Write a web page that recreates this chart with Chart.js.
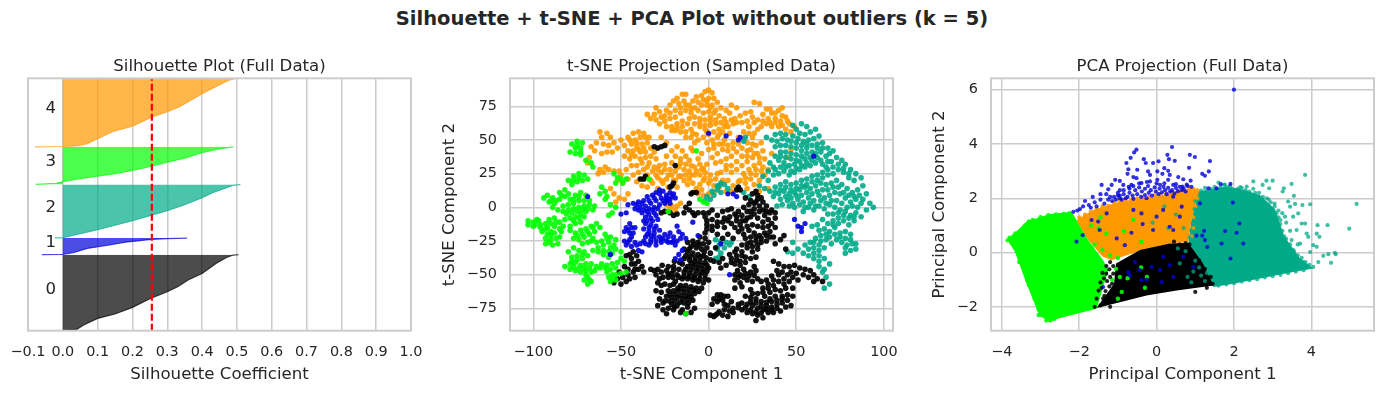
<!DOCTYPE html>
<html><head><meta charset="utf-8">
<script src="https://cdn.jsdelivr.net/npm/chart.js@4"></script>
<style>
html,body{margin:0;padding:0;background:#fff;width:1384px;height:393px;overflow:hidden}
canvas{position:absolute}
#sup{position:absolute;left:0;width:1384px;top:8px;text-align:center;font:bold 19.5px "DejaVu Sans";color:#262626;line-height:22px}
</style></head><body>
<div id="sup">Silhouette + t-SNE + PCA Plot without outliers (k = 5)</div>
<canvas id="a" width="460" height="338" style="left:-10px;top:55px"></canvas>
<canvas id="b" width="489" height="338" style="left:440px;top:55px"></canvas>
<canvas id="c" width="454" height="338" style="left:930px;top:55px"></canvas>
<script>
const colBlack='0,0,0',colBlue='0,0,221',colTeal='0,170,136',colGreen='0,255,0',colOrange='255,153,0';
const silXTicks=[-0.1,0,0.1,0.2,0.3,0.4,0.5,0.6,0.7,0.8,0.9,1.0];
const tsneXTicks=[-100,-50,0,50,100];
const tsneYTicks=[-75,-50,-25,0,25,50,75];
const pcaXTicks=[-4,-2,0,2,4];
const pcaYTicks=[-2,0,2,4,6];
const silAvg=0.2557;
const silLabels=[['0',41],['1',88],['2',123],['3',169],['4',221.7]];
const sil0=[[-0.085,0],[0,0.3],[0.04,1.3],[0.06,5.7],[0.1,12.3],[0.15,16.7],[0.2,23.3],[0.25,32],[0.3,39],[0.33,44],[0.36,50.7],[0.4,57.3],[0.44,67.3],[0.47,73.3],[0.49,75.7],[0.505,76]];
const sil1=[[-0.06,76.2],[0,76.4],[0.03,78],[0.07,82.3],[0.13,85.5],[0.18,88.6],[0.255,91.3],[0.3,92.2],[0.357,92.7]];
const sil2=[[-0.023,92.8],[0,93],[0.05,97],[0.1,101],[0.15,105.5],[0.2,110],[0.255,115.7],[0.3,120],[0.35,126],[0.4,133],[0.43,138],[0.47,143],[0.49,145.5],[0.51,146.2]];
const sil3=[[-0.078,146.3],[-0.02,147.5],[0,149],[0.05,152],[0.1,154.5],[0.15,157],[0.2,160.3],[0.255,164.5],[0.3,168.5],[0.35,172.5],[0.4,178],[0.45,182],[0.49,184]];
const sil4=[[-0.08,184],[0,184.3],[0.04,185],[0.07,187],[0.1,192],[0.145,199.5],[0.2,204.5],[0.255,213.5],[0.3,219],[0.335,224],[0.4,237],[0.45,246],[0.48,251],[0.497,252.5]];

const tsneOrange=[[-67,45],[-64,48],[-61,52],[-62,56],[-58,55],[-56,52],[-60,47],[-57,46],[-54,48],[-52,44],[-55,41],[-58,41],[-61,40],[-65,42],[-50,50],[-48,46],[-46,52],[-43,55],[-40,56],[-37,55],[-36,52],[-39,52],[-42,50],[-44,47],[-41,45],[-38,47],[-35,48],[-33,44],[-36,41],[-39,41],[-43,42],[-46,42],[-48,38],[-45,36],[-42,38],[-39,36],[-36,37],[-33,38],[-31,41],[-30,36],[-34,33],[-31,30],[-28,31],[-41,31],[-44,31],[-47,28],[-50,24],[-52,20],[-49,18],[-46,21],[-43,24],[-40,26],[-37,28],[-35,24],[-38,21],[-41,19],[-33,20],[-30,24],[-27,26],[-27,20],[-24,21],[-21,24],[-19,20],[-16,23],
[-30,74],[-28,71],[-31,69],[-27,67],[-24,72],[-22,76],[-20,79],[-18,81],[-15,84],[-13,84],[-17,77],[-14,79],[-11,76],[-19,72],[-16,70],[-13,72],[-10,70],[-8,74],[-6,78],[-4,83],[-2,86],[0,87],[2,85],[-3,80],[0,81],[3,81],[5,78],[-1,76],[2,76],[-6,72],[-3,70],[0,71],[-5,66],[-2,65],[1,67],[4,72],[7,74],[10,72],[13,76],[16,74],[6,68],[9,66],[12,70],[15,66],[18,68],[21,70],[24,71],[26,78],[29,77],[33,73],[36,70],[40,72],[42,74],[38,66],[34,66],[31,69],[41,64],[44,67],[46,62],[49,60],[44,58],[40,60],[36,60],[33,62],[30,60],[47,56],
[-35,69],[-33,66],[-30,65],[-28,62],[-25,64],[-22,66],[-24,60],[-21,60],[-18,62],[-15,64],[-12,62],[-19,57],[-16,56],[-13,56],[-10,58],[-13,52],[-10,52],[-8,48],[-5,60],[-2,58],[1,61],[4,62],[3,56],[0,54],[-3,52],[-1,48],[2,50],[5,52],[8,56],[11,60],[14,62],[12,55],[9,50],[6,47],[3,44],[0,43],[5,40],[8,43],[11,46],[14,48],[17,52],[20,56],[23,60],[26,63],[28,58],[25,52],[22,48],[19,44],[16,41],[13,38],[10,36],[7,34],[4,33],[2,37],[24,43],[27,46],[30,48],[28,40],[25,37],[22,34],[19,31],[16,28],[13,26],[10,28],[7,26],[20,25],[23,28],[26,31],[29,33],[32,36],[30,27],[27,24],[24,21],[21,18],[18,20],[26,17],[29,20],[32,24],[34,28],
[-18,45],[-15,42],[-19,38],[-16,36],[-13,38],[-11,35],[-17,30],[-14,28],[-11,27],[-8,30],[-5,32],[-8,24],[-5,24],[-2,26],[1,24],[4,21],[-3,20],[0,18],[3,16],[-11,21],[-14,20],[-17,23],[-20,20],[-23,24],[-26,18],[-23,15],[-29,22],[-32,18],[-35,15],[-38,16],[-29,14],[-7,14],[-4,13],[-6,10],[-3,9],[0,10],[3,11],
[-24,2],[-21,1],[-18,1],[-22,-1],[-19,-2],[-16,3],[-57,28],[-54,27],[-51,27],[-60,26],[-56,14],[-54,10],[-51,7],[-53,4],[-48,6],[-46,10],[-68,37],[-69,33],[-62,28],[-59,30],[-63,25],[-7,54],[-9,42],[-4,40],[-21,42],[-24,48],[-27,52],[-24,38],[45,37],[47,43],[11,20],[14,16],[17,19],[8,20],[6,15],[10,12],[13,12],[22,14],[29,12],[34,14],[-10,44],[-6,36],[-1,32],[36,40],
[-34,52],[-45,50],[-41,48],[-37,44],[-40,43],[-44,39],[-38,33],[-35,30],[-32,27],[-29,28],[-25,28],[-22,28],[-25,32],[-21,33],[-19,27],[-16,33],[-13,32],[-10,31],[-13,24],[-10,24],[-7,27],[-4,28],[-2,22],[1,20],[-5,17],[-9,18],[-12,17],[-18,15],[-3,29],[5,25],[-25,68],[-22,70],[-19,67],[-16,74],[-13,76],[-10,73],[-9,79],[-7,82],[-4,76],[-1,79],[1,74],[3,70],[-8,67],[-11,66],[-8,62],[-5,63],[-2,61],[1,64],[4,65],[7,63],[10,63],[13,65],[16,63],[19,63],[22,64],[25,67],[28,65],[31,64],[35,63],[38,63],[42,61],[38,70],[35,73],[45,64],[42,68],[-15,60],[-18,59],[-21,57],[-9,55],[-6,50],[-1,56],[6,58],[9,60],[6,54],[3,47],[8,47],[11,42],[14,44],[17,47],[20,51],[23,55],[26,55],[22,42],[25,47],[19,38],[22,38],[16,34],[13,31],[10,31],[26,40],[29,37],[31,42],[31,30],[27,28],[24,25],[21,22]];

const tsneBlack=[[-11,-2],[-13,0],[-11,3],[-9,-4],[-14,-4],[-18,-5],[-22,-4],[-20,-6],[-25,-3],[-27,-4],[-8,-6],[-6,-4],[-3,-4],[0,-4],[2,-2],[-2,-7],[-1,-10],[2,-9],[-1,-13],[2,-14],[5,-11],[5,-6],[8,-3],[11,-2],[13,-1],[9,-8],[12,-7],[15,-5],[17,-3],[19,-6],[16,-10],[13,-12],[15,-15],[18,-13],[21,-10],[24,-7],[22,-3],[20,0],[23,2],[26,-1],[24,5],[27,4],[21,7],[28,9],[25,10],[29,-3],[32,-6],[34,-9],[31,-11],[28,-8],[35,-4],[33,1],[30,7],[27,12],[36,-12],[38,-8],[38,-15],
[17,-18],[20,-20],[23,-17],[26,-19],[29,-21],[32,-19],[35,-18],[37,-22],[33,-25],[30,-26],[27,-25],[24,-26],[28,-31],[25,-33],[22,-30],[19,-33],[16,-36],[13,-38],[18,-40],[15,-42],[21,-37],[24,-38],[27,-37],[38,-27],[41,-24],[43,-21],[44,-31],
[-12,-26],[-9,-25],[-6,-26],[-3,-27],[0,-26],[-5,-22],[-2,-23],[-10,-29],[-7,-30],[-4,-31],[-1,-30],[1,-34],[-3,-36],[-6,-35],[-9,-34],[-12,-33],[-14,-38],[-11,-39],[-8,-40],[-5,-40],[-2,-41],[1,-39],[0,-45],[-3,-46],[-6,-45],[-9,-44],[-12,-44],[-15,-42],[-17,-46],[-14,-48],[-11,-49],[-8,-50],[-5,-50],[-2,-50],[0,-54],[-3,-56],[-6,-55],[-9,-54],[-12,-53],[-15,-53],[-18,-50],[-21,-49],[-24,-47],[-27,-48],[-29,-46],[-31,-47],[-33,-46],[-26,-52],[-28,-53],[-23,-52],[-25,-57],[-22,-58],[-19,-55],[-16,-58],[-13,-58],[-10,-59],[-7,-60],[-4,-60],[-8,-64],[-11,-64],[-14,-63],[-17,-62],[-20,-62],[-23,-62],[-24,-66],[-21,-67],[-18,-67],[-15,-68],[-12,-68],[-9,-69],[-21,-72],[-18,-73],[-23,-75],[-20,-76],[-12,-74],[-15,-76],[-10,-78],[-13,-79],[-8,-75],
[15,-50],[18,-50],[21,-49],[24,-48],[27,-47],[15,-54],[18,-56],[22,-54],[25,-55],[28,-53],[15,-60],[19,-59],[24,-61],[31,-60],[34,-57],[37,-54],[40,-50],[43,-53],[46,-55],[48,-60],[44,-60],[41,-62],[38,-61],[35,-63],[32,-66],[35,-68],[38,-66],[42,-66],[45,-65],[42,-71],[39,-72],[36,-74],[33,-73],[30,-70],[27,-68],[24,-67],[21,-66],[8,-69],[11,-66],[13,-70],[7,-65],
[19,-71],[22,-72],[25,-73],[28,-75],[31,-76],[19,-76],[22,-78],[25,-79],[28,-80],[31,-82],[27,-84],[14,-78],[11,-81],[8,-80],[4,-80],[14,-75],[17,-72],[11,-73],[34,-78],[37,-78],[41,-77],[44,-74],[47,-73],
[37,-40],[40,-42],[43,-44],[46,-44],[49,-43],[52,-45],[55,-46],[58,-47],[60,-50],[62,-53],[65,-55],[60,-55],[57,-52],[54,-50],[50,-49],[47,-48],
[-43,-33],[-45,-35],[-47,-36],[-44,-38],[-41,-36],[-42,-42],[-40,-46],[-43,-48],[-46,-50],[-49,-52],[-45,-53],[-42,-52],[-52,-53],[-54,-56],[-50,-57],[-47,-55],
[-31,45],[-29,44],[-27,45],[-25,46],[-39,21],[-37,21],[-36,23],[-21,16],[-20,18],[-22,15],[-19,31],[17,15],[18,13],[16,13],[-9,11],[-7,11],[3,-68],[5,-70],[2,-72],[5,-65],[1,-80],[3,-81],[5,-79],[-2,-19],[5,-20],[8,-23],[11,-20],[14,-23],[9,-15],[4,-30],[3,-40],[-10,10],
[-26.5,-43],[-23,-44],[-20,-44],[-16.5,-41],[-19.5,-40],[-13,-36],[-10.5,-36.5],[-7.5,-37.5],[-4.5,-37],[-1.5,-37.5],[-11,-31],[-8.5,-27.5],[-5.5,-28],[-2.5,-33],[-14,-31],[-10,-41.5],[-7,-42.5],[-4,-43],[-1,-43],[-13,-46],[-10,-46.5],[-7,-47],[-4,-48],[-1,-47.5],[-20,-46.5],[-23,-49.5],[-20.5,-52],[-17,-52],[-14,-51],[-11,-51.5],[-8,-52.5],[-5,-53],[-2,-53],[-20,-57],[-17.5,-60],[-14.5,-60.5],[-11.5,-61],[-8.5,-61.5],[-5.5,-62.5],[-22,-64.5],[-19,-64.5],[-16,-65.5],[-13,-66],[-10,-66.5],[-25,-69.5],[-22.5,-69.5],[-19.5,-69.5],[-16.5,-70.5],[-19.5,-74],[-30,-50],[-29,-56],[-27,-58],[-30,-62],[-27,-63],[-28,-68],[-26,-71],[-29,-73],[-26,-76],[-24,-79],[-16,-78],[-11.5,-71],[-14,-71],
[16.5,-47],[20,-46],[26,-44],[17,-52],[20,-52],[23,-51],[26,-50.5],[30,-55],[33,-54],[36,-51],[39,-47],[42,-48],[45,-50],[48,-52],[51,-54],[40,-55],[43,-57],[37,-58],[34,-60],[31,-63],[28,-64],[25,-64],[33,-70.5],[36,-70],[39,-69],[42,-68],[45,-69],[48,-66],[24,-70],[27,-71],[30,-73],[21,-74.5],[24,-76],[27,-77.5],[30,-78.5],[33,-75.5],[36,-76],[39,-75],[17,-74.5],[12,-77],[9,-76],[6,-77.5],[9,-72],[6,-68],[9,-66],
[19,-16],[22,-14],[25,-13],[28,-14],[31,-15],[34,-14],[24,-22],[21,-23],[27,-22],[30,-23],[33,-21],[35,-22],[25,-29],[28,-28],[19,-28],[22,-27],[16,-31],[19,-36],[16,-39],[13,-41],[10,-43],[7,-45],[18,-43],[12,-35],[21,-41],[15,-33],[6,-41],[8,-38],[36,-2],[38,-4],[31,-2],[29,1],[26,3],[28,6],[31,4],[33,-3],[24,-3],[26,-5],[22,-8],[19,-10],[16,-7],[11,-10],[8,-11],[5,-14],[-1,-16],[2,-17],[-48,-44],[-44,-42],[-46,-46],[-42,-46],[-40,-40],[-38,-44],[-37,-48],[-51,-48]];

const tsneTeal=[[48,61],[50,58],[53,62],[56,60],[52,55],[55,54],[58,56],[61,58],[63,53],[60,51],[57,50],[54,49],[51,51],[48,53],[45,50],[42,51],[39,49],[36,50],[33,52],[38,45],[41,46],[44,46],[47,45],[50,44],[44,41],[41,41],[47,40],[50,39],[53,42],[56,44],[59,46],[62,47],[65,48],[68,44],[71,42],[67,38],[64,41],[61,40],[58,37],[55,36],[52,34],[49,32],[46,31],[43,33],[40,35],[37,30],[34,27],[31,23],[34,20],[37,24],[40,25],[43,27],[46,24],[49,26],[52,28],[55,30],[58,31],[61,33],[64,35],[67,30],[70,34],[73,37],[76,35],[78,32],[81,28],[84,25],[87,22],[83,20],[80,22],[77,26],[74,28],[71,25],[68,24],[65,26],[62,24],[59,23],[56,21],[53,20],[50,18],[47,17],[44,19],[41,17],[38,15],[35,12],[32,14],[29,16],[37,8],[40,10],[43,12],[46,10],[49,11],[52,13],[55,15],[58,14],[61,16],[64,18],[67,17],[70,18],[73,20],[76,17],[79,14],[82,11],[85,13],[88,16],[90,10],[92,3],[94,0],[90,-2],[87,3],[84,6],[81,4],[78,7],[75,10],[72,11],[69,9],[66,7],[63,9],[60,5],[57,7],[54,4],[51,6],[48,3],[45,5],[42,2],[39,1],[54,-3],[57,0],[60,-2],[63,1],[66,-1],[69,2],[72,0],[75,-2],[78,-3],[81,-6],[84,-4],[87,-7],[83,-10],[80,-13],[77,-10],[74,-8],[71,-10],[68,-12],[65,-9],[62,-13],[59,-14],[63,-17],[66,-16],[69,-18],[72,-15],[75,-19],[78,-18],[81,-20],[73,-24],[76,-26],[79,-28],[82,-27],[84,-31],[81,-32],[78,-34],[70,-27],[67,-24],[64,-25],[61,-23],[58,-26],[55,-28],[60,-30],[63,-32],[66,-30],[54,-34],[57,-36],[60,-38],[63,-40],[66,-38],[51,-31],[48,-34],[45,-33],[69,-42],[66,-46],[67,-52],[69,-57],[66,-60],[65,-48],[63,-44],[48,-26],
[-1,8],[1,6],[3,9],[2,12],[5,13],[7,11],[6,16],[9,17],[11,14],[-2,5],[23,8],[20,11],[5,16],[7,18],[4,-24],[7,-25],[10,-26],[13,-26],[6,-28],[9,-30],[5,-31],[7,-34],[6,-37],[4,-38],[12,-28],[21,52],[20,49],
[50,48],[47,49],[44,54],[41,55],[38,54],[53,46],[56,47],[59,41],[62,44],[65,44],[69,40],[56,40],[53,38],[50,35],[47,36],[44,37],[41,38],[38,38],[35,33],[38,28],[41,30],[44,30],[47,27],[50,29],[53,31],[56,33],[59,35],[62,37],[65,32],[68,34],[71,30],[74,32],[77,29],[80,25],[68,28],[65,22],[62,20],[59,19],[56,17],[53,16],[50,14],[47,13],[44,15],[41,13],[38,11],[41,6],[44,8],[47,7],[50,9],[53,9],[56,11],[59,10],[62,12],[65,13],[68,13],[71,15],[74,15],[77,11],[80,9],[83,8],[86,9],[88,6],[85,0],[82,1],[79,0],[76,3],[73,5],[70,5],[67,3],[64,5],[61,1],[58,3],[55,0],[52,2],[49,0],[46,1],[68,-5],[71,-5],[74,-4],[77,-6],[80,-8],[83,-7],[71,-13],[74,-12],[69,-22],[72,-20],[75,-22],[78,-23],[67,-20],[64,-21],[60,-26],[63,-28],[57,-31],[60,-34],[63,-36],[78,-30],[81,-24],[84,-27]];

const tsneGreen=[[-78,47],[-75,49],[-72,48],[-76,44],[-73,44],[-79,41],[-76,40],[-73,39],[-70,35],[-67,33],[-66,30],[-80,20],[-77,23],[-74,25],[-71,24],[-78,17],[-75,19],[-72,20],[-69,21],[-54,25],[-52,22],[-50,21],[-49,18],[-53,18],[-47,21],[-61,15],[-59,12],[-62,10],[-58,8],[-59,6],[-56,2],[-53,0],[-55,-4],[-57,-6],
[-94,7],[-92,9],[-89,7],[-91,4],[-88,3],[-85,11],[-82,13],[-85,6],[-82,8],[-79,6],[-76,9],[-73,11],[-70,9],[-74,5],[-77,3],[-80,2],[-83,1],[-86,-2],[-89,0],[-83,-3],[-80,-2],[-77,-1],[-74,0],[-71,1],[-68,2],[-65,1],[-70,-3],[-73,-5],[-76,-7],[-79,-8],[-82,-9],[-76,-12],[-79,-14],[-73,-11],
[-103,-10],[-100,-11],[-97,-10],[-103,-13],[-100,-14],[-96,-13],[-93,-12],[-98,-9],[-91,-9],[-88,-8],[-85,-11],[-88,-14],[-92,-15],[-83,-14],[-95,-18],[-92,-20],[-88,-19],[-85,-22],[-93,-23],[-90,-24],[-89,-28],[-86,-27],[-93,-27],[-84,-18],
[-79,-17],[-76,-19],[-73,-17],[-70,-16],[-67,-14],[-64,-12],[-62,-15],[-65,-18],[-68,-20],[-71,-22],[-74,-24],[-77,-23],[-72,-27],[-69,-26],[-66,-23],[-59,-20],[-56,-22],[-53,-24],[-57,-26],[-60,-28],[-63,-30],[-66,-32],[-56,-30],[-53,-31],[-50,-33],[-60,-35],[-57,-37],
[-80,-33],[-77,-30],[-74,-32],[-71,-33],[-75,-36],[-78,-37],[-72,-38],[-69,-36],[-76,-41],[-73,-43],[-70,-42],[-79,-42],[-82,-44],[-79,-46],[-76,-47],[-73,-48],[-70,-47],[-67,-42],[-67,-48],[-64,-44],[-61,-42],[-58,-43],[-55,-42],[-52,-41],[-69,-52],[-71,-54],[-69,-57],[-67,-55],[-58,-48],[-55,-50],[-57,-52],[-56,-55],[-53,-54],[-50,-49],[-47,-48],[-48,-40],[-50,-38],[-68,-54],
[-23,-3],[-5,6],[-3,4],[-1,3],[-13,-79],[-34,21],[-7,42],
[-90,5],[-87,5],[-84,9],[-80,10],[-77,6],[-74,8],[-71,5],[-68,5],[-81,-5],[-78,-4],[-75,-3],[-72,-2],[-69,-1],[-66,-2],[-74,-8],[-71,-7],[-77,-10],[-99,-13],[-96,-15],[-93,-16],[-90,-12],[-87,-11],[-85,-16],[-90,-18],[-87,-23],[-90,-21],[-91,-26],[-72,-20],[-69,-18],[-66,-15],[-75,-21],[-67,-25],[-64,-26],[-61,-25],[-58,-23],[-63,-33],[-60,-32],[-57,-33],[-54,-28],[-55,-34],[-75,-39],[-72,-35],[-78,-40],[-74,-45],[-71,-45],[-77,-44],[-68,-45],[-65,-47],[-62,-45],[-59,-45],[-56,-46],[-53,-45],[-53,-50],[-70,-50],[-55,-53],[-75,46],[-73,41],[-77,20],[-74,22]];

const tsneBlue=[[-50,-5],[-47,-4],[-46,2],[-43,3],[-40,4],[-37,5],[-35,8],[-32,9],[-30,11],[-28,13],[-26,12],[-42,-1],[-39,0],[-36,1],[-33,3],[-30,5],[-27,7],[-24,9],[-23,5],[-25,3],[-21,8],[-20,10],[-19,7],[-35,-3],[-38,-4],[-32,-2],[-29,-1],[-36,-7],[-33,-8],[-30,-6],[-36,-12],[-33,-13],[-37,-16],[-34,-18],[-45,-12],[-47,-15],[-48,-18],[-45,-19],[-42,-15],[-44,-22],[-30,-14],[-28,-17],[-31,-19],[-33,-21],[-36,-22],[-28,-22],[-25,-20],[-22,-19],[-20,-22],[-17,-18],[-15,-20],[-18,-25],[-21,-26],[-24,-25],[-27,-26],[-30,-25],[-33,-26],[-36,-27],[-39,-27],[-42,-26],[-46,-26],[-48,-25],[-47,-28],[-44,-29],[-40,-32],[-16,-23],[-19,-28],[-38,-33],[-18,-14],[-13,-23],[-15,-32],[-17,-35],[-19,-38],[-16,-39],[-6,-21],[7,-27],[12,-50],[0,55],[10,53],[17,50],[18,52],[60,38],[11,10],[14,10],[16,8],[49,-9],[53,-15],[55,-12],[51,-14],[53,-18],[-69,8],[-56,-35],[-9,-11],
[-41,2],[-38,3],[-34,5],[-31,7],[-28,10],[-24,7],[-22,6],[-40,-2],[-37,-2],[-34,-1],[-31,0],[-28,2],[-26,5],[-34,-5],[-31,-4],[-35,-10],[-32,-10],[-34,-15],[-31,-16],[-35,-20],[-46,-17],[-44,-15],[-43,-19],[-31,-22],[-26,-23],[-23,-22],[-20,-25],[-23,-26],[-27,-24],[-30,-28],[-34,-28],[-37,-25],[-41,-28],[-45,-24],[-24,5],[-22,11],[-22,3],[-37,-10],[-29,-9],[-33,-24]];

const pcaGreenTop=[[-3.85,.46],[-3.36,1.14],[-2.76,1.42],[-2.2,1.5],[-2.07,1.2],[-1.77,.46],[-1.38,-.28],[-1.25,-.65]];
const pcaGreenLow=[[-3.85,.46],[-3.66,.02],[-3.36,-1.15],[-3.03,-2.32],[-2.8,-2.53],[-2.24,-2.32],[-1.55,-2.07],[-1.25,-.65]];
const pcaTealTop=[[.82,.4],[.9,1.2],[1.08,2.25],[1.29,2.31],[1.81,2.43],[2.24,2.31],[2.67,2.12],[3.06,1.6],[3.3,.6],[3.7,-.2],[4.05,-.59]];
const pcaTealLow=[[.82,.4],[1.47,-1.27],[1.98,-1.15],[2.67,-.96],[3.53,-.72],[4.05,-.59]];
const pcaOrangeTop=[[-2.07,1.2],[-1.64,1.57],[-.95,1.88],[.09,2.09],[.86,2.37],[1.1,2.28]];
const pcaOrangeLow=[[-2.07,1.2],[-1.77,.46],[-1.4,-.15],[-1.16,-.28],[-.52,.02],[.34,.33],[.82,.4],[.9,1.2],[1.1,2.28]];
const pcaBlackTop=[[-1.55,-2.04],[-1.1,-1.15],[-1.05,-.4],[-.43,.09],[.34,.33],[.82,.36],[1.2,-.4],[1.47,-1.21]];
const pcaBlackLow=[[-1.55,-2.04],[-1,-1.85],[-.26,-1.58],[.52,-1.4],[1.47,-1.21]];

const pcaBlue=[[2,6],[-.52,3.79],[-.58,3.69],[-.67,3.49],[-.78,3.3],[-.73,3.07],[-.75,2.9],[-.5,3.05],[-.6,2.78],[-.33,3.44],[-.28,3.3],[-.09,3.3],[.05,3.36],[.28,3.6],[.32,3.44],[.4,3.89],[.47,3.38],[.86,3.6],[.99,3.52],[1.38,3.37],[.84,3.12],[1.35,2.99],[1.18,2.9],[1.25,2.83],[-.22,2.99],[-.17,2.86],[.02,2.99],[.2,3.11],[.3,3.01],[.34,2.86],[.15,2.9],[.56,2.78],[.69,2.7],[.88,2.65],[.02,2.68],[-.17,2.62],[.3,2.68],[-.52,2.74],[-.95,2.64],[-1.07,2.68],[-1.42,2.49],[-1.16,2.49],[-1.25,2.33],[-.86,2.49],[-.65,2.49],[-.39,2.56],[.09,2.49],[.43,2.49],[.67,2.43],[1.91,2.53],[1.66,2.52],[1.55,2.37],[1.34,2.37],
[-2.15,1.5],[-2.05,1.55],[-1.9,1.7],[-1.75,1.75],[-1.85,1.9],[-1.6,1.85],[-1.65,2.05],[-1.45,1.95],[-1.3,2.15],[-1.45,2.15],[-1.2,2.05],[-1.1,2.05],[-1.35,1.8],[-1.55,1.7],[-1,2.2],[-.95,2.3],[-.85,2.15],[-.7,2.35],[-1.25,1.95],[-1.15,1.9],[-.95,2],[-1.98,1.6],[-1.7,1.65],[-.8,2],
[-.75,2.05],[-.7,2.2],[-.62,2.1],[-.55,2.3],[-.5,2.15],[-.45,2.4],[-.4,2.05],[-.38,2.25],[-.3,2.35],[-.3,2.12],[-.22,2.45],[-.2,2.2],[-.15,2.3],[-.12,2.1],[-.05,2.4],[-.02,2.25],[.05,2.15],[.08,2.35],[.14,2.22],[.18,2.42],[.22,2.3],[.26,2.15],[.3,2.38],[.35,2.25],[.4,2.3],[.46,2.18],[.5,2.38],[.55,2.26],[.6,2.42],[.65,2.3],[.7,2.36],[.75,2.25],[.8,2.45],[.9,2.42],[-.6,2.45],[-.85,2.3],[-.95,2.1],[-.72,2.42],[-.45,2.55],[-.25,2.6],[0,2.55],[.2,2.55],[.5,2.52],[.78,2.5],[-1.05,1.95],[-1,2.1],[-.9,1.95],[-.6,1.98],
[2.24,.33],[2.14,1.07],[1.97,1.84],[1.77,.79],[2.07,.73],[1.68,.33],[1.91,-.22],[1.23,.8],[1.03,.62],[1.18,.62],[1.12,1.81],[1.25,.46],[1.31,.2],
[-.65,.73],[-.36,1.05],[-.39,1.44],[-1.03,.52],[-1.47,.83],[-1.51,1.14],[-1.29,1.44],[0,1.32],[.17,1.57],[.6,1.32],[.34,.95],[-.09,.83],[.43,.83],[.65,1.69],[-.6,1.57],[-.82,.27],[-2.07,.4],[-1.91,.64],[-1.68,1.2],[.43,2.06],[-.26,2],
[-.73,-.72],[-.69,-.84],[-.26,-1],[.13,-1.09],[.43,-.9],[-.39,-1.02],[-.13,-.53],[.09,-.65],[.34,-.47],[.69,-.16],[-1.38,-1.27],[-.43,-.65],[-.56,-.35],[.17,-.16],[.95,-.53]];
const pcaGreen=[[-3.85,.45],[-3.8,.55],[-3.7,.6],[-3.75,.35],[-3.65,.7],[-3.6,.15],[-3.55,.25],[-3.5,.8],[-3.4,1],[-3.45,0],[-3.55,-.35],[-3.4,-.5],[-3.3,-.6],[-3.25,-.9],[-3.35,-1],[-3.2,-1.2],[-3.3,-1.2],[-3.1,-1.5],[-3.15,-1.7],[-3.05,-1.9],[-3.05,-2.1],[-2.98,-2.3],[-3.05,-2.3],[-2.85,-2.5],[-2.75,-2.5],[-2.65,-2.45],[-3.3,1.15],[-3.2,1.2],[-3,1.3],[-2.8,1.38],[-2.6,1.4],[-2.4,1.42],[-2.25,1.45],
[-1.15,-1],[-1.05,-.6],[-.95,-.9],[-.9,-1.45],[-1,-1.7],[-.75,-.95],[-.3,-1.3],[-.25,-.9],[-.4,-.55],[-1,-.2],[-1.7,1],[-1.5,.9],[-1.3,.7],[-.85,.8],[-.6,1.2],[-1.6,.3],[-1.4,.1],[-1.2,-.1],[-1.45,1.3],[-.4,.4]];
const pcaTeal=[[5.17,1.79],[4.98,.88],[4.42,1.01],[4.16,1.01],[3.84,2.86],[3.97,1.78],[3.77,1.75],[3.84,1.07],[3.88,.7],[4.14,.7],[4.21,.58],[4.05,.27],[4.14,.21],[3.97,.02],[4.18,-.35],[4.31,-.12],[4.44,-.06],[4.61,-.01],[4.63,-.06],[4.51,-.38],[4.05,-.53],[3.79,-.35],[3.92,.58],[3.58,1.79],[3.55,2.09],[3.49,2.53],[3.29,2.37],[3.26,2.25],[3,2.65],[2.84,2.65],[2.91,2.37],[2.74,2.49],[2.5,2.62],[2.33,2.43],[3.4,1.88],[3.45,1.69],[3.32,1.32],[3.53,1.32],[3.66,1.44],[3.75,1.07],[3.62,.83],[3.49,.46],[3.71,.33],[3.53,.09],[1.6,2.58],[1.77,2.49],[2.16,2.41],[3.2,1.2],[3.15,.9],[3.3,.6],[3.4,.2],[3.55,-.1],[3.7,-.4],[3.85,-.55],[2.9,1.95],[3.05,1.8],[3.15,1.55],[3.25,1.45],[3.35,1.1],[2.5,2.35],[2.1,2.35],[1.9,2.45],[3.65,.3],[3.45,.8],
[1.15,2.28],[1.25,2.38],[1.4,2.35],[1.5,2.42],[1.65,2.4],[1.75,2.5],[1.85,2.4],[1.95,2.35],[2.05,2.3],[2.2,2.38],[2.3,2.3],[2.4,2.25],[2.55,2.2],[2.65,2.2],[2.75,2.05],[2.85,2],[2.95,1.85],[3.05,1.7],[3.1,1.45],[3.15,1.3],[3.2,1.05],[3.25,.8],[3.35,.5],[3.45,.3],[3.55,.05],[3.65,-.1],[3.75,-.2],[3.85,-.35],[3.95,-.45],[1.6,-1.22],[1.8,-1.17],[2,-1.13],[2.2,-1.07],[2.4,-1.02],[2.6,-.98],[2.8,-.92],[3,-.87],[3.2,-.82],[3.4,-.76],[3.6,-.7],[3.8,-.65],
[1,-.3],[.95,-.7],[1.15,-.85],[1.25,-1.05],[1.1,-.55],[.8,-.9],[.6,-.4],[.75,.05],[.55,.15],[1.3,-.75],[.9,-1.1],[1.35,-.4],[.5,1.4],[.3,.9],[.7,.9],[-.1,1.1],[.2,1.7],[.95,1.1],[.9,.8],[.85,.55],[.98,1.6],[1,1.9]];
const pcaOrange=[[-2,1.3],[-1.85,1.4],[-1.7,1.5],[-1.55,1.6],[-1.4,1.7],[-1.25,1.72],[-1.1,1.85],[-.95,1.92],[-.8,1.95],[-.65,1.95],[-.5,2],[-.35,2.02],[-.2,2.05],[-.05,2.12],[.1,2.15],[.25,2.18],[.4,2.2],[.55,2.25],[.7,2.3],[.85,2.4],[.95,2.35],[1.05,2.3],[-1.9,.9],[-1.8,.7],[-1.65,.6],[-1.55,.35],[-1.45,.2],[-1.3,-.05],[-1.75,1.05],[-1.95,1.1],[.95,1.3],[1,1.7],[1.05,2],[.95,.9],[.9,.6]];
const pcaBlack=[[-1.5,-1.4],[-1.55,-1.7],[-1.45,-1.1],[-1.4,-.75],[-1.6,-2],[-1.3,-.5],[-1.35,-1.6],[-1.45,-1.95],[-1.2,-2],[.6,.3],[.75,.35],[.85,.3],[.45,.4],[1.3,-1.3],[1.45,-1.15],[1.4,-.9],[1.25,-.6],[1.1,-.3],[1,-1.45],
[-1.3,-1.85],[-1.25,-1.6],[-1.2,-1.75],[-1.15,-1.5],[-1.32,-1.42],[-1.22,-1.25],[-1.15,-1.15],[-1.28,-1.05],[-1.2,-.9],[-1.12,-.78],[-1.3,-.78],[-1.22,-.62],[-1.12,-.5],[-1.2,-.35],[-1.38,-1.7],[-1.42,-1.3],[-1.36,-.95]];

const P=a=>a.map(([x,y])=>({x,y}));
const rgba=(c,a)=>`rgba(${c},${a})`;
Chart.defaults.font.family='"DejaVu Sans"';
Chart.defaults.color='#262626';
Chart.defaults.animation=false;
const INK='#262626',GRID='#cccccc';
const frame={id:'frame',afterDatasetsDraw(ch){const a=ch.chartArea,c=ch.ctx;c.save();c.strokeStyle=GRID;c.lineWidth=2;c.strokeRect(a.left,a.top,a.width,a.height);c.restore();}};
const minus=v=>String(v).replace('-','\u2212');
function axis(ticks,min,max,label,fmt,opts){return Object.assign({type:'linear',min,max,
  afterBuildTicks:s=>{s.ticks=ticks.map(value=>({value}));},
  ticks:{autoSkip:false,maxRotation:0,minRotation:0,font:{size:14.4},color:INK,padding:13,callback:fmt},
  grid:{color:GRID,lineWidth:1.5,drawTicks:false,tickLength:0},border:{display:false},
  title:{display:true,text:label,font:{size:16.6},color:INK,padding:{top:0,bottom:8}}},opts||{});}
const title=t=>({display:true,text:t,fullSize:false,font:{size:16.6,weight:'normal'},color:INK,padding:{top:1.5,bottom:1.9}});
const base=(t,pad)=>({responsive:false,maintainAspectRatio:false,devicePixelRatio:1,layout:{padding:pad},plugins:{legend:{display:false},tooltip:{enabled:false},title:title(t)}});

// silhouette
const silDs=(d,c)=>({data:P(d),borderColor:rgba(c,.7),backgroundColor:rgba(c,.7),borderWidth:1.2,pointRadius:0,fill:{value:0},tension:0});
const silOpts=base('Silhouette Plot (Full Data)',{left:38,right:39});
silOpts.indexAxis='y';
silOpts.scales={x:axis(silXTicks,-0.1,1.0,'Silhouette Coefficient',v=>minus(v.toFixed(1)),{afterFit:s=>{s.height=62.3;}}),
  y:{type:'linear',min:0,max:252.5,display:false}};
new Chart(document.getElementById('a'),{type:'line',data:{datasets:[
  {data:P([[silAvg,0],[silAvg,252.5]]),borderColor:'#ff0000',borderWidth:2.2,borderDash:[7,3],pointRadius:0,fill:false},
  silDs(sil4,colOrange),silDs(sil3,colGreen),silDs(sil2,colTeal),silDs(sil1,colBlue),silDs(sil0,colBlack)]},
  options:silOpts,plugins:[frame,{id:'clusterLabels',afterDatasetsDraw(ch){const c=ch.ctx;c.save();c.fillStyle=INK;c.font='16.6px "DejaVu Sans"';c.textAlign='left';c.textBaseline='middle';
    silLabels.forEach(([t,y])=>c.fillText(t,ch.scales.x.getPixelForValue(-0.05),ch.scales.y.getPixelForValue(y)));c.restore();}}]});

// t-SNE
const dots=(d,c,r,a)=>({data:P(d),backgroundColor:rgba(c,a),borderWidth:0,pointRadius:r,showLine:false});
const tOpts=base('t-SNE Projection (Sampled Data)',{right:36});
tOpts.scales={x:axis(tsneXTicks,-113.3,105.2,'t-SNE Component 1',minus,{afterFit:s=>{s.height=62.3;}}),
  y:axis(tsneYTicks,-91.6,95.8,'t-SNE Component 2',minus,{afterFit:s=>{s.width=70;}})};
new Chart(document.getElementById('b'),{type:'scatter',data:{datasets:[
  dots(tsneBlue,colBlue,2.6,.9),dots(tsneGreen,colGreen,2.8,.9),dots(tsneBlack,colBlack,2.8,.92),dots(tsneTeal,colTeal,2.8,.9),dots(tsneOrange,colOrange,2.8,.9)]},
  options:tOpts,plugins:[frame]});

// PCA
const edge=(d,c,fill)=>({type:'line',data:P(d),backgroundColor:rgba(c,1),borderWidth:0,pointRadius:0,fill:fill,tension:0});
const pOpts=base('PCA Projection (Full Data)',{right:10});
pOpts.scales={x:axis(pcaXTicks,-4.28,5.62,'Principal Component 1',minus,{afterFit:s=>{s.height=62.3;}}),
  y:axis(pcaYTicks,-2.88,6.42,'Principal Component 2',minus,{afterFit:s=>{s.width=61;}})};
new Chart(document.getElementById('c'),{type:'scatter',data:{datasets:[
  dots(pcaBlue,colBlue,2.1,.8),dots(pcaBlack,colBlack,2.1,.85),dots(pcaTeal,colTeal,2.1,.75),dots(pcaGreen,colGreen,2.2,.9),dots(pcaOrange,colOrange,2.1,.9),
  edge(pcaBlackTop,colBlack,'+1'),edge(pcaBlackLow,colBlack,false),
  edge(pcaGreenTop,colGreen,'+1'),edge(pcaGreenLow,colGreen,false),
  edge(pcaOrangeTop,colOrange,'+1'),edge(pcaOrangeLow,colOrange,false),
  edge(pcaTealTop,colTeal,'+1'),edge(pcaTealLow,colTeal,false)]},
  options:pOpts,plugins:[frame]});
</script></body></html>
